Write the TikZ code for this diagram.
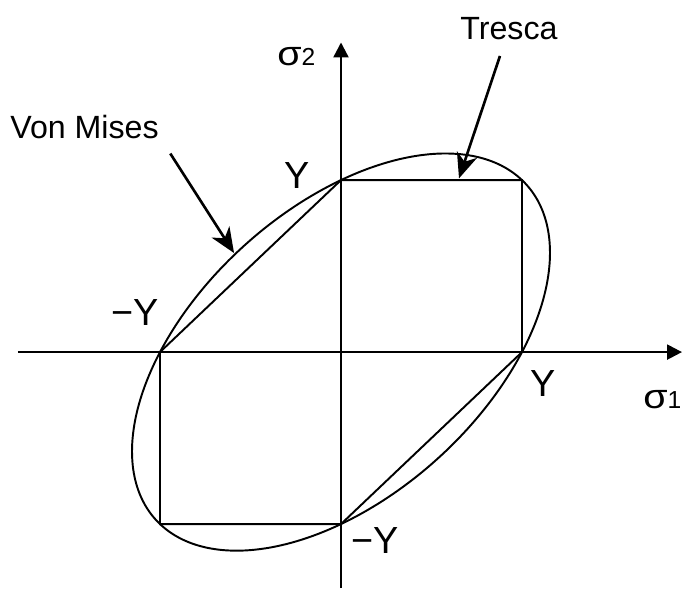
\documentclass[tikz,border=0pt]{standalone}
\usepackage{fontspec}
\setmainfont{Liberation Sans}
\usetikzlibrary{arrows.meta}
\newcommand{\lblfont}{\fontsize{18.3}{22}\selectfont}
\newcommand{\yfont}{\fontsize{21.5}{25}\selectfont}
\newcommand{\sig}[1]{{\fontsize{19.5}{23}\selectfont\scalebox{1.15}[1]{σ}}{\fontsize{14}{16}\selectfont #1}}
\begin{document}
\begin{tikzpicture}[x=3.62cm,y=3.44cm,
  axis/.style={line width=1.3pt,-{Triangle[length=3mm,width=3mm]}},
  curve/.style={line width=1.1pt},
  pointer/.style={line width=1.5pt,-{Stealth[length=5mm,width=4.2mm,inset=1.5mm]},shorten <=2mm},
  ylbl/.style={font=\yfont,inner sep=0pt},
  critname/.style={font=\lblfont}]
\useasboundingbox(-1.884,-1.372)rectangle(1.895,2.047);
\coordinate(xs)at(-1.785,0);\coordinate(xe)at(1.884,0);
\coordinate(ys)at(0,-1.372);\coordinate(ye)at(0,1.80);
\coordinate(p1)at(1,0);\coordinate(p2)at(1,1);\coordinate(p3)at(0,1);
\coordinate(p4)at(-1,0);\coordinate(p5)at(-1,-1);\coordinate(p6)at(0,-1);
\draw[curve,line join=miter](p1)--(p2)--(p3)--(p4)--(p5)--(p6)--cycle;
\draw[curve]plot[domain=0:357.5,samples=144,smooth cycle,variable=\t]({cos(\t)-sin(\t)/sqrt(3)},{cos(\t)+sin(\t)/sqrt(3)});
\draw[axis](xs)--(xe);
\draw[axis](ys)--(ye);
\node[critname](tresca)at(0.928,1.878){Tresca};
\node[critname](vonmises)at(-1.417,1.308){Von Mises};
\coordinate(trescatip)at(0.652,1.01);
\coordinate(vmtip)at(-0.591,0.576);
\draw[pointer](tresca)--(trescatip);
\draw[pointer](vonmises.south east)--(vmtip);
\node[ylbl](ytop)at(-0.243,1.029){Y};
\node[ylbl](yleft)at(-1.135,0.233){−Y};
\node[ylbl](yright)at(1.116,-0.183){Y};
\node[ylbl](ybot)at(0.188,-1.093){−Y};
\node[anchor=east,inner sep=0pt](s1)at(1.882,-0.279){\sig{1}};
\node[anchor=west,inner sep=0pt](s2)at(-0.354,1.715){\sig{2}};
\end{tikzpicture}
\end{document}
